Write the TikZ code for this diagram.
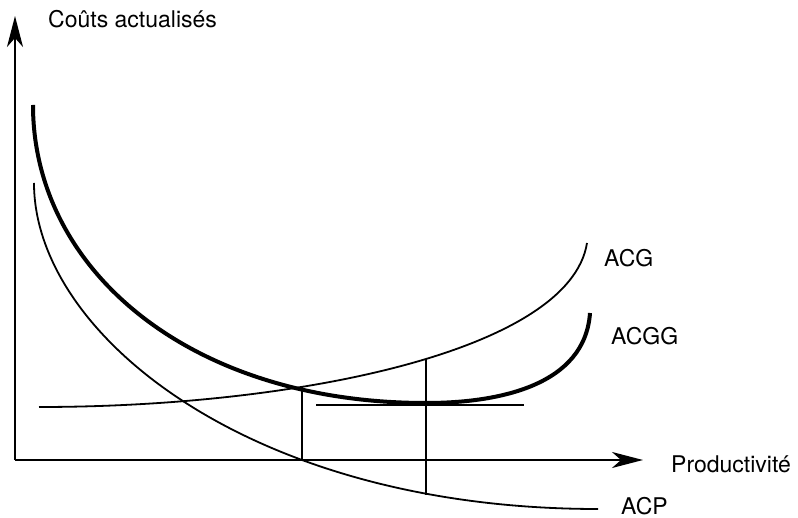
\documentclass[tikz,border=0pt]{standalone}
\usepackage{fontspec}
\setmainfont{TeX Gyre Heros}
\usetikzlibrary{arrows.meta}
\begin{document}
\begin{tikzpicture}[x=1pt,y=-1pt,
  axis/.style={line width=2pt,-{Stealth[length=31pt,width=16pt,inset=9pt]}},
  thin curve/.style={line width=1.8pt},
  thick curve/.style={line width=4pt},
  guide/.style={line width=2.2pt},
  lab/.style={anchor=base west,inner sep=0pt,font=\fontsize{23}{27}\selectfont}]
\useasboundingbox (0,0) rectangle (798,518);
\fill[white] (0,0) rectangle (798,518);
% axes
\coordinate (O) at (15,460);
\coordinate (Ytop) at (15,16);
\coordinate (Xend) at (643,460);
\draw[axis] (O) -- (Ytop);
\draw[axis] (O) -- (Xend);
% curves
\draw[thick curve] (33,105) .. controls (33,270) and (190,403) .. (426,403)
                   .. controls (500,403) and (585,385) .. (590,313);
\draw[thin curve] (34,183) .. controls (34,333) and (248,509) .. (598,509);
\draw[thin curve] (39,407) .. controls (300,407) and (570,350) .. (587,243);
% guides
\coordinate (A1) at (302,387);
\coordinate (A2) at (302,460);
\coordinate (B1) at (426,359);
\coordinate (B2) at (426,495);
\coordinate (T1) at (316,405);
\coordinate (T2) at (524,405);
\draw[guide] (A1) -- (A2);
\draw[guide] (B1) -- (B2);
\draw[guide] (T1) -- (T2);
% labels
\node[lab] (ylab) at (48,28) {Coûts actualisés};
\node[lab] (xlab) at (671,472) {Productivité};
\node[lab] (acg) at (604,267) {ACG};
\node[lab] (acgg) at (611,345) {ACGG};
\node[lab] (acp) at (621,514) {ACP};
\end{tikzpicture}
\end{document}
